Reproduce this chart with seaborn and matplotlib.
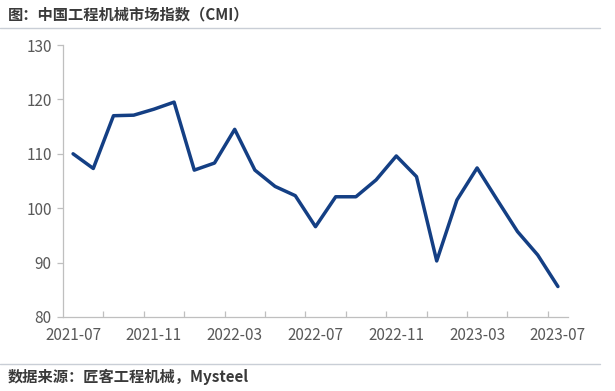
import numpy as np
import matplotlib
matplotlib.use("Agg")
import matplotlib.pyplot as plt
import seaborn as sns
import pandas as pd

# 中国工程机械市场指数 (CMI), monthly 2021-07 .. 2023-07
months = pd.date_range("2021-07-01", "2023-07-01", freq="MS").strftime("%Y-%m").tolist()
cmi = [110.0, 107.3, 117.0, 117.1, 118.2, 119.5, 107.0, 108.3, 114.5, 107.0,
       104.0, 102.3, 96.6, 102.1, 102.1, 105.2, 109.6, 105.8, 90.3, 101.5,
       107.4, 101.5, 95.7, 91.4, 85.6]
y_ticks = [80, 90, 100, 110, 120, 130]

df = pd.DataFrame({"month": months, "cmi": cmi})
df["pos"] = np.arange(len(df))

sns.set_theme(style="white")
plt.rcParams["font.family"] = ["Noto Sans CJK SC", "DejaVu Sans"]

fig = plt.figure(figsize=(6.15, 3.91), dpi=100)
ax = fig.add_axes([0.1024, 0.1893, 0.8212, 0.6956])

sns.lineplot(data=df, x="pos", y="cmi", ax=ax, color="#143F84", linewidth=2.5,
             solid_joinstyle="round", solid_capstyle="round")

ax.set_xlim(-0.5, len(df) - 0.5)
ax.set_ylim(80, 130)
ax.set_yticks(y_ticks)
ax.set_xticks(df["pos"][::4])
ax.set_xticklabels(df["month"][::4])
ax.set_xticks(np.arange(1.5, len(df) - 0.5, 2), minor=True)
ax.set_xlabel("")
ax.set_ylabel("")

for s in ["top", "right"]:
    ax.spines[s].set_visible(False)
for s in ["left", "bottom"]:
    ax.spines[s].set_color("#BFBFBF")
    ax.spines[s].set_linewidth(0.9)

ax.tick_params(axis="x", which="major", length=0, labelsize=11, colors="#595959", pad=7)
ax.tick_params(axis="x", which="minor", direction="in", length=4, color="#BFBFBF", width=0.9, bottom=True)
ax.tick_params(axis="y", direction="out", length=4, color="#BFBFBF", width=0.9,
               labelsize=11, labelcolor="#595959", left=True, pad=4)

fig.text(0.013, 0.963, "图：中国工程机械市场指数（CMI）", fontsize=11,
         fontweight="bold", color="#3A3A3A", va="center", ha="left")
fig.add_artist(plt.Line2D([0.0, 0.975], [0.928, 0.928], color="#C9CED6", linewidth=1.0))
fig.add_artist(plt.Line2D([0.0, 0.975], [0.069, 0.069], color="#C9CED6", linewidth=1.0))
fig.text(0.013, 0.036, "数据来源：匠客工程机械，Mysteel", fontsize=11,
         fontweight="bold", color="#3A3A3A", va="center", ha="left")

fig.savefig("out.png", dpi=100)
